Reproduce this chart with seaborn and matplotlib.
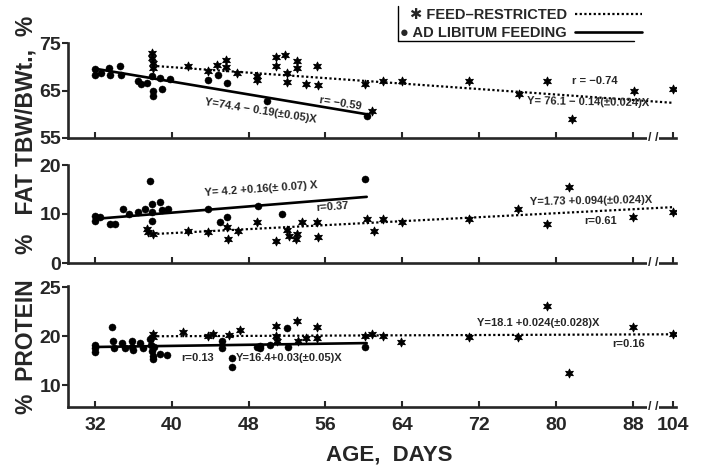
import numpy as np
import pandas as pd
import matplotlib
matplotlib.use('Agg')
import matplotlib.pyplot as plt
import seaborn as sns
from matplotlib.lines import Line2D

# ---- data (age in days) ----
# TBW / body weight, %
al_age_tbw = [32.0, 32.0, 32.6, 33.5, 33.6, 34.6, 34.7, 36.5, 36.8, 37.4, 37.9, 38.0, 38.0,
              38.8, 39.0, 39.8, 43.8, 44.8, 45.8, 49.9, 60.3]
al_tbw = [69.6, 68.3, 68.6, 69.7, 68.2, 70.2, 68.3, 67.0, 66.3, 66.5, 68.0, 64.9, 63.8,
          67.7, 65.3, 67.5, 67.2, 68.3, 66.6, 62.7, 59.7]
fr_age_tbw = [37.9, 37.9, 38.0, 38.0, 41.7, 43.8, 44.7, 45.7, 45.7, 46.8, 48.9, 48.9, 50.9,
              50.9, 51.8, 52.0, 52.0, 53.0, 53.0, 54.0, 55.1, 55.2, 60.1, 60.9, 62.0, 64.0,
              71.0, 76.2, 79.1, 81.7, 88.4, 104]
fr_tbw = [72.8, 71.8, 70.8, 69.8, 70.1, 69.1, 70.4, 71.5, 70.0, 68.7, 68.0, 67.2, 72.0,
          70.2, 72.5, 68.7, 66.7, 71.2, 69.7, 66.3, 70.1, 66.2, 66.3, 60.6, 67.0, 67.0,
          67.0, 64.2, 67.0, 58.9, 64.8, 65.3]

# fat, %
al_age_fat = [32.0, 32.0, 32.5, 33.6, 34.1, 34.9, 35.6, 36.5, 37.2, 37.7, 37.9, 37.9, 37.9,
              38.8, 39.0, 39.6, 43.8, 45.0, 45.8, 49.0, 51.5, 60.1]
al_fat = [9.6, 8.5, 9.3, 7.9, 7.9, 11.0, 10.0, 10.4, 11.0, 16.8, 12.0, 10.4, 8.6,
          12.4, 10.8, 11.0, 11.0, 8.3, 9.4, 11.6, 10.0, 17.1]
fr_age_fat = [37.4, 37.5, 38.0, 41.7, 43.8, 45.8, 45.9, 46.9, 48.9, 50.9, 52.0, 52.2, 52.9,
              53.0, 53.6, 55.1, 55.2, 60.3, 61.1, 62.0, 64.0, 71.0, 76.0, 79.1, 81.4, 88.2, 104]
fr_fat = [7.0, 6.3, 5.9, 6.5, 6.3, 7.3, 4.9, 6.5, 8.4, 4.5, 6.8, 5.6, 4.9,
          6.0, 8.4, 8.4, 5.3, 9.0, 6.5, 9.0, 8.4, 9.0, 11.0, 8.0, 15.5, 9.4, 10.4]

# protein, %
al_age_pro = [32.0, 32.0, 32.0, 33.8, 33.9, 34.0, 34.8, 35.1, 35.9, 35.9, 36.0, 36.7, 37.0,
              37.7, 37.8, 37.9, 38.0, 38.1, 38.2, 38.8, 39.5, 45.2, 45.2, 46.3, 46.3, 48.9,
              49.2, 49.2, 50.2, 52.0, 52.1, 60.1]
al_pro = [18.3, 17.5, 16.8, 21.8, 19.1, 17.5, 18.7, 17.5, 19.0, 17.8, 17.2, 18.7, 17.5,
          19.4, 18.2, 17.0, 16.0, 15.4, 17.8, 16.4, 16.1, 19.1, 17.5, 15.5, 13.6, 17.7,
          18.1, 17.6, 18.2, 21.6, 17.9, 17.7]
fr_age_pro = [38.0, 38.1, 41.2, 43.8, 44.3, 46.0, 47.1, 50.9, 50.9, 51.0, 53.0, 53.1, 54.0,
              55.1, 55.1, 60.1, 60.9, 62.0, 63.9, 71.0, 76.0, 79.1, 81.4, 88.2, 104]
fr_pro = [20.5, 19.8, 20.8, 20.0, 20.4, 20.2, 21.2, 22.2, 20.0, 19.0, 23.2, 19.1, 19.6,
          21.8, 19.6, 20.1, 20.4, 20.1, 18.8, 19.8, 19.8, 26.2, 12.4, 21.8, 20.4]

# regression lines (end points)
fit_age_al = [32, 60.3]
fit_age_fr = [38, 104]
al_fit_tbw = [69.6, 60.0]
fr_fit_tbw = [70.2, 62.4]
al_fit_fat = [9.0, 13.5]
fr_fit_fat = [5.9, 11.4]
al_fit_pro = [17.8, 18.6]
fr_fit_pro = [20.0, 20.4]

age_ticks = [32, 40, 48, 56, 64, 72, 80, 88, 104]


# axis is broken between 88 and 104
def xpos(age):
    age = np.asarray(age, dtype=float)
    return np.where(age <= 88, age, 88 + (age - 88) * 4.2 / 16)


sns.set_style('ticks')
plt.rcParams['font.family'] = ['Liberation Sans', 'DejaVu Sans']
plt.rcParams['font.weight'] = 'bold'

W, H = 704, 467
fig = plt.figure(figsize=(W / 100, H / 100), dpi=100)


def rect(top_px, bot_px):
    return [68 / W, (H - bot_px) / H, (676 - 68) / W, (bot_px - top_px) / H]


ax1 = fig.add_axes(rect(43, 138))
ax2 = fig.add_axes(rect(165, 263))
ax3 = fig.add_axes(rect(286, 407))

dot = (0, (1, 1.1))
star = (6, 1, 0)

panels = [
    (ax1, al_age_tbw, al_tbw, fr_age_tbw, fr_tbw, al_fit_tbw, fr_fit_tbw,
     (55, 75), [55, 65, 75], ['55', '65', '75'], 'TBW/BWt.,  %'),
    (ax2, al_age_fat, al_fat, fr_age_fat, fr_fat, al_fit_fat, fr_fit_fat,
     (0, 20), [0, 10, 20], ['0', '10', '20'], '%   FAT'),
    # the original's top protein tick is printed "25" one full step above 20
    (ax3, al_age_pro, al_pro, fr_age_pro, fr_pro, al_fit_pro, fr_fit_pro,
     (5.5, 30.3), [10, 20, 30], ['10', '20', '25'], '%  PROTEIN'),
]

for ax, aa, av, fa, fv, alf, frf, ylim, yt, ytl, ylab in panels:
    sns.lineplot(x=xpos(fit_age_al), y=alf, ax=ax, color='black', lw=1.9, zorder=2)
    sns.lineplot(x=xpos(fit_age_fr), y=frf, ax=ax, color='black', lw=1.6,
                 linestyle=dot, zorder=2)
    sns.scatterplot(x=xpos(aa), y=av, ax=ax, marker='o', s=26, color='black',
                    edgecolor='black', linewidth=0.3, zorder=3)
    sns.scatterplot(x=xpos(fa), y=fv, ax=ax, marker=star, s=42, color='black',
                    edgecolor='black', linewidth=0.6, zorder=3)
    ax.set_xlim(29.2, 92.5)
    ax.set_ylim(*ylim)
    ax.set_yticks(yt)
    ax.set_yticklabels(ytl, fontsize=14, fontweight='bold')
    ax.set_xticks(xpos(age_ticks))
    ax.set_xticklabels([str(a) for a in age_ticks], fontsize=14, fontweight='bold')
    sns.despine(ax=ax)
    for s in ['left', 'bottom']:
        ax.spines[s].set_linewidth(1.9)
    ax.tick_params(axis='y', direction='out', length=4, width=1.5, pad=1)
    ax.tick_params(axis='x', direction='in', length=4, width=1.5, pad=7)
    ax.set_ylabel(ylab, fontsize=16.5, fontweight='bold')
    ax.yaxis.set_label_coords(-0.05, 0.5)
    ax.set_xlabel('')
    # axis break marks
    xb = (88 + float(xpos(104))) / 2
    ax.text(xb, 0, '/ /', transform=ax.get_xaxis_transform(), ha='center', va='center',
            fontsize=9, fontweight='bold', clip_on=False, zorder=5,
            bbox=dict(facecolor='white', edgecolor='none', pad=0.5))
    ax.set_facecolor('none')

ax1.tick_params(axis='x', labelbottom=False)
ax2.tick_params(axis='x', labelbottom=False)
ax3.set_xlabel('AGE,  DAYS', fontsize=16, fontweight='bold')
ax3.xaxis.set_label_coords(0.528, -0.395)
ax3.xaxis.label.set_va('center')

ann = dict(fontsize=8, fontweight='bold', ha='left', va='center', rotation_mode='anchor')
ax1.text(43.4, 62.5, 'Y=74.4 \u2212 0.19(\u00b10.05)X', rotation=-9, **ann)
ax1.text(55.4, 62.9, 'r= \u22120.59', rotation=-9, **ann)
ax1.text(81.7, 67.0, 'r = \u22120.74', **ann)
ax1.text(77.0, 62.7, 'Y= 76.1 \u2212 0.14(\u00b10.024)X', rotation=-1, **ann)
ax2.text(43.4, 14.3, 'Y= 4.2 +0.16(\u00b1 0.07) X', rotation=4, **ann)
ax2.text(55.0, 11.3, 'r=0.37', rotation=4, **ann)
ax2.text(77.3, 12.4, 'Y=1.73 +0.094(\u00b10.024)X', rotation=1, **ann)
ax2.text(82.9, 8.6, 'r=0.61', **ann)
ax3.text(41.0, 15.5, 'r=0.13', **ann)
ax3.text(46.7, 15.5, 'Y=16.4+0.03(\u00b10.05)X', **ann)
ax3.text(71.8, 22.8, 'Y=18.1 +0.024(\u00b10.028)X', **ann)
ax3.text(85.9, 18.5, 'r=0.16', **ann)

# legend: symbol + text on the left, line sample on the right
handles = [Line2D([], [], color='black', lw=1.6, linestyle=dot),
           Line2D([], [], color='black', lw=1.9)]
labels = ['\u2731 FEED\u2013RESTRICTED', '\u25cf AD LIBITUM FEEDING']
fig.legend(handles, labels, loc='upper left', bbox_to_anchor=(400 / W, 1 - 8 / H),
           frameon=False, markerfirst=False, handlelength=4.6, handletextpad=0.6,
           borderpad=0, borderaxespad=0, labelspacing=0.3,
           prop={'size': 10.5, 'weight': 'bold'})
fig.add_artist(Line2D([398 / W, 398 / W], [1 - 6 / H, 1 - 41 / H], color='black',
                      lw=1.0, transform=fig.transFigure))
fig.add_artist(Line2D([398 / W, 634 / W], [1 - 41 / H, 1 - 41 / H], color='black',
                      lw=1.0, transform=fig.transFigure))

fig.savefig('out.png', dpi=100, facecolor='white')
